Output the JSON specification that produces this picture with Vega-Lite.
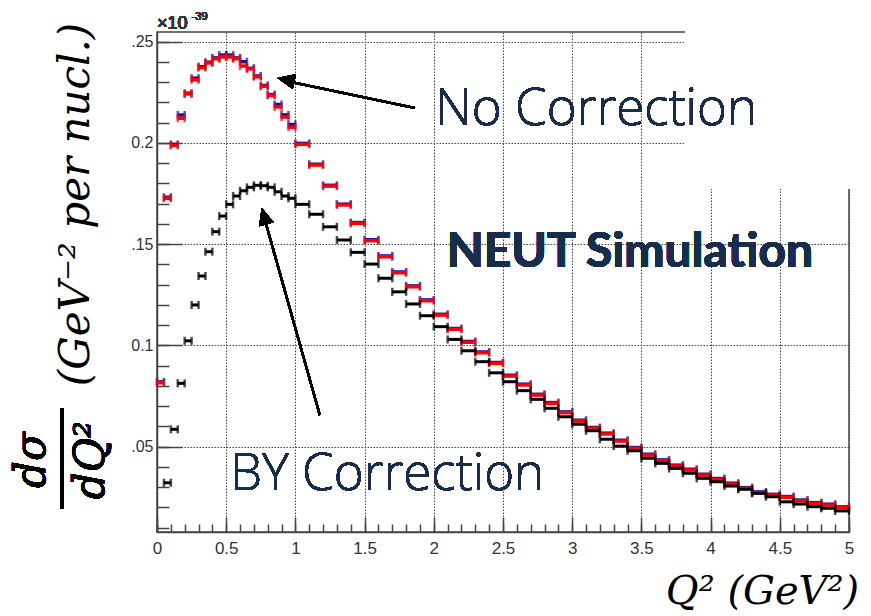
{
  "$schema": "https://vega.github.io/schema/vega-lite/v6.json",
  "width": 692,
  "height": 500,
  "autosize": {"type": "none"},
  "padding": {"left": 157, "top": 32, "right": 22, "bottom": 84},
  "background": "white",
  "config": {"view": {"stroke": "#444", "strokeWidth": 1.5}},
  "data": {"values": [
    {"lo":0,"hi":0.05,"blue":0.082,"red":0.0816},
    {"lo":0.05,"hi":0.1,"blue":0.1732,"red":0.1727,"black":0.0322},
    {"lo":0.1,"hi":0.15,"blue":0.1993,"red":0.1988,"black":0.0586},
    {"lo":0.15,"hi":0.2,"blue":0.2138,"red":0.2122,"black":0.0813},
    {"lo":0.2,"hi":0.25,"blue":0.2246,"red":0.2242,"black":0.1023},
    {"lo":0.25,"hi":0.3,"blue":0.232,"red":0.2312,"black":0.12},
    {"lo":0.3,"hi":0.35,"blue":0.2377,"red":0.2372,"black":0.1343},
    {"lo":0.35,"hi":0.4,"blue":0.2399,"red":0.2395,"black":0.1463},
    {"lo":0.4,"hi":0.45,"blue":0.242,"red":0.2416,"black":0.1562},
    {"lo":0.45,"hi":0.5,"blue":0.2434,"red":0.2425,"black":0.1639},
    {"lo":0.5,"hi":0.55,"blue":0.2434,"red":0.2425,"black":0.1697},
    {"lo":0.55,"hi":0.6,"blue":0.242,"red":0.2416,"black":0.1738},
    {"lo":0.6,"hi":0.65,"blue":0.2401,"red":0.238,"black":0.1764},
    {"lo":0.65,"hi":0.7,"blue":0.2369,"red":0.2366,"black":0.1781},
    {"lo":0.7,"hi":0.75,"blue":0.2331,"red":0.2327,"black":0.1791},
    {"lo":0.75,"hi":0.8,"blue":0.2284,"red":0.228,"black":0.1789},
    {"lo":0.8,"hi":0.85,"blue":0.2239,"red":0.2235,"black":0.1781},
    {"lo":0.85,"hi":0.9,"blue":0.219,"red":0.2178,"black":0.1759},
    {"lo":0.9,"hi":0.95,"blue":0.2139,"red":0.2128,"black":0.1738},
    {"lo":0.95,"hi":1.0,"blue":0.2091,"red":0.2078,"black":0.1727},
    {"lo":1.0,"hi":1.1,"blue":0.1998,"red":0.1993,"black":0.1697},
    {"lo":1.1,"hi":1.2,"blue":0.1895,"red":0.1891,"black":0.1648},
    {"lo":1.2,"hi":1.3,"blue":0.1791,"red":0.1787,"black":0.1586},
    {"lo":1.3,"hi":1.4,"blue":0.1698,"red":0.1694,"black":0.1521},
    {"lo":1.4,"hi":1.5,"blue":0.1607,"red":0.1603,"black":0.146},
    {"lo":1.5,"hi":1.6,"blue":0.1522,"red":0.1517,"black":0.1402},
    {"lo":1.6,"hi":1.7,"blue":0.1442,"red":0.1438,"black":0.1332},
    {"lo":1.7,"hi":1.8,"blue":0.1363,"red":0.1359,"black":0.1265},
    {"lo":1.8,"hi":1.9,"blue":0.1294,"red":0.129,"black":0.1205},
    {"lo":1.9,"hi":2.0,"blue":0.1225,"red":0.1221,"black":0.1147},
    {"lo":2.0,"hi":2.1,"blue":0.1154,"red":0.115,"black":0.1093},
    {"lo":2.1,"hi":2.2,"blue":0.1084,"red":0.108,"black":0.103},
    {"lo":2.2,"hi":2.3,"blue":0.102,"red":0.1016,"black":0.0974},
    {"lo":2.3,"hi":2.4,"blue":0.0968,"red":0.0964,"black":0.092},
    {"lo":2.4,"hi":2.5,"blue":0.0916,"red":0.0912,"black":0.0865},
    {"lo":2.5,"hi":2.6,"blue":0.0853,"red":0.0849,"black":0.0821},
    {"lo":2.6,"hi":2.7,"blue":0.0809,"red":0.0805,"black":0.0777},
    {"lo":2.7,"hi":2.8,"blue":0.0759,"red":0.0755,"black":0.0734},
    {"lo":2.8,"hi":2.9,"blue":0.0718,"red":0.0714,"black":0.069},
    {"lo":2.9,"hi":3.0,"blue":0.0672,"red":0.0668,"black":0.0648},
    {"lo":3.0,"hi":3.1,"blue":0.0631,"red":0.0627,"black":0.0611},
    {"lo":3.1,"hi":3.2,"blue":0.0595,"red":0.0591,"black":0.0579},
    {"lo":3.2,"hi":3.3,"blue":0.0567,"red":0.0563,"black":0.0537},
    {"lo":3.3,"hi":3.4,"blue":0.0532,"red":0.0528,"black":0.0503},
    {"lo":3.4,"hi":3.5,"blue":0.0496,"red":0.0492,"black":0.048},
    {"lo":3.5,"hi":3.6,"blue":0.0463,"red":0.0459,"black":0.0443},
    {"lo":3.6,"hi":3.7,"blue":0.0435,"red":0.0431,"black":0.0418},
    {"lo":3.7,"hi":3.8,"blue":0.0409,"red":0.0405,"black":0.0393},
    {"lo":3.8,"hi":3.9,"blue":0.0389,"red":0.0385,"black":0.0369},
    {"lo":3.9,"hi":4.0,"blue":0.0364,"red":0.036,"black":0.0344},
    {"lo":4.0,"hi":4.1,"blue":0.0343,"red":0.0339,"black":0.0327},
    {"lo":4.1,"hi":4.2,"blue":0.032,"red":0.0316,"black":0.0306},
    {"lo":4.2,"hi":4.3,"blue":0.0298,"red":0.0294,"black":0.029},
    {"lo":4.3,"hi":4.4,"blue":0.0277,"red":0.0273,"black":0.027},
    {"lo":4.4,"hi":4.5,"blue":0.0265,"red":0.0261,"black":0.0253},
    {"lo":4.5,"hi":4.6,"blue":0.0254,"red":0.025,"black":0.0228},
    {"lo":4.6,"hi":4.7,"blue":0.0237,"red":0.0233,"black":0.0217},
    {"lo":4.7,"hi":4.8,"blue":0.0224,"red":0.022,"black":0.0204},
    {"lo":4.8,"hi":4.9,"blue":0.0216,"red":0.0212,"black":0.0196},
    {"lo":4.9,"hi":5.0,"blue":0.0203,"red":0.0199,"black":0.0183}
  ]},
  "resolve": {"axis": {"x": "independent", "y": "independent"}},
  "layer": [
    {
      "mark": {"type": "rule", "strokeWidth": 3.5, "color": "#1212a0"},
      "encoding": {
        "x": {"field": "lo", "type": "quantitative",
          "scale": {"domain": [0, 5], "nice": false, "zero": false},
          "axis": {"orient": "bottom", "values": [0,0.5,1,1.5,2,2.5,3,3.5,4,4.5,5],
            "labelExpr": "'' + datum.value", "labelFlush": false,
            "labelFont": "Liberation Sans", "labelFontSize": 17, "labelColor": "#333", "labelPadding": 23,
            "tickSize": -15, "tickWidth": 1.5, "tickColor": "#444",
            "domainColor": "#444", "domainWidth": 1.5,
            "grid": true, "gridDash": [1.5, 1.5], "gridColor": "#444", "gridWidth": 1,
            "title": "Q² (GeV²)", "titleFont": "DejaVu Serif", "titleFontStyle": "italic", "titleFontWeight": "normal",
            "titleFontSize": 40, "titleColor": "#000", "titleX": 605, "titleY": 71,
            "titleAlign": "center", "titleBaseline": "alphabetic"}},
        "x2": {"field": "hi"},
        "y": {"field": "blue", "type": "quantitative",
          "scale": {"domain": [0.0079, 0.2548], "nice": false, "zero": false},
          "axis": {"orient": "left", "values": [0.05, 0.1, 0.15, 0.2, 0.25],
            "labelExpr": "datum.value == 0.25 ? '.25' : datum.value == 0.2 ? '0.2' : datum.value == 0.15 ? '.15' : datum.value == 0.1 ? '0.1' : '.05'",
            "labelFont": "Liberation Sans", "labelFontSize": 16, "labelColor": "#333", "labelPadding": 29,
            "tickSize": -25, "tickWidth": 1.5, "tickColor": "#444",
            "domainColor": "#444", "domainWidth": 1.5,
            "grid": true, "gridDash": [1.5, 1.5], "gridColor": "#444", "gridWidth": 1,
            "title": "(GeV⁻² per nucl.)", "titleFont": "DejaVu Serif", "titleFontStyle": "italic", "titleFontWeight": "normal",
            "titleFontSize": 42, "titleColor": "#000", "titleAngle": 270, "titleX": -82, "titleY": 172,
            "titleAlign": "center", "titleBaseline": "middle"}}
      }
    },
    {
      "mark": {"type": "tick", "orient": "vertical", "size": 8, "thickness": 2.5, "color": "#1212a0"},
      "encoding": {
        "x": {"field": "lo", "type": "quantitative",
          "axis": {"orient": "bottom", "values": [0,0.1,0.2,0.3,0.4,0.5,0.6,0.7,0.8,0.9,1,1.1,1.2,1.3,1.4,1.5,1.6,1.7,1.8,1.9,2,2.1,2.2,2.3,2.4,2.5,2.6,2.7,2.8,2.9,3,3.1,3.2,3.3,3.4,3.5,3.6,3.7,3.8,3.9,4,4.1,4.2,4.3,4.4,4.5,4.6,4.7,4.8,4.9,5],
            "labels": false, "grid": false, "domain": false, "tickSize": -8, "tickWidth": 1.5, "tickColor": "#444", "title": null}},
        "y": {"field": "blue", "type": "quantitative",
          "axis": {"orient": "left", "values": [0.01,0.02,0.03,0.04,0.05,0.06,0.07,0.08,0.09,0.1,0.11,0.12,0.13,0.14,0.15,0.16,0.17,0.18,0.19,0.2,0.21,0.22,0.23,0.24,0.25],
            "labels": false, "grid": false, "domain": false, "tickSize": -12, "tickWidth": 1.5, "tickColor": "#444", "title": null}}
      }
    },
    {
      "mark": {"type": "tick", "orient": "vertical", "size": 8, "thickness": 2.5, "color": "#1212a0"},
      "encoding": {
        "x": {"field": "hi", "type": "quantitative", "axis": null},
        "y": {"field": "blue", "type": "quantitative", "axis": null}
      }
    },
    {
      "mark": {"type": "rule", "strokeWidth": 3.5, "color": "#ff0000"},
      "encoding": {
        "x": {"field": "lo", "type": "quantitative", "axis": null},
        "x2": {"field": "hi"},
        "y": {"field": "red", "type": "quantitative", "axis": null}
      }
    },
    {
      "mark": {"type": "tick", "orient": "vertical", "size": 8, "thickness": 2.5, "color": "#ff0000"},
      "encoding": {
        "x": {"field": "lo", "type": "quantitative", "axis": null},
        "y": {"field": "red", "type": "quantitative", "axis": null}
      }
    },
    {
      "mark": {"type": "tick", "orient": "vertical", "size": 8, "thickness": 2.5, "color": "#ff0000"},
      "encoding": {
        "x": {"field": "hi", "type": "quantitative", "axis": null},
        "y": {"field": "red", "type": "quantitative", "axis": null}
      }
    },
    {
      "mark": {"type": "rule", "strokeWidth": 3, "color": "#000000"},
      "encoding": {
        "x": {"field": "lo", "type": "quantitative", "axis": null},
        "x2": {"field": "hi"},
        "y": {"field": "black", "type": "quantitative", "axis": null}
      }
    },
    {
      "mark": {"type": "tick", "orient": "vertical", "size": 8, "thickness": 2.5, "color": "#000000"},
      "encoding": {
        "x": {"field": "lo", "type": "quantitative", "axis": null},
        "y": {"field": "black", "type": "quantitative", "axis": null}
      }
    },
    {
      "mark": {"type": "tick", "orient": "vertical", "size": 8, "thickness": 2.5, "color": "#000000"},
      "encoding": {
        "x": {"field": "hi", "type": "quantitative", "axis": null},
        "y": {"field": "black", "type": "quantitative", "axis": null}
      }
    },
    {
      "mark": {"type": "rect", "fill": "white", "stroke": null},
      "encoding": {
        "x": {"datum": 3.815, "type": "quantitative", "axis": null},
        "x2": {"datum": 5.35},
        "y": {"datum": 0.1774, "type": "quantitative", "axis": null},
        "y2": {"datum": 0.275}
      }
    },
    {
      "mark": {"type": "text", "text": "No Correction", "font": "Open Sans", "fontWeight": 300, "fontSize": 51, "color": "#182c4c", "align": "left", "baseline": "alphabetic"},
      "encoding": {
        "x": {"datum": 2.009, "type": "quantitative", "axis": null},
        "y": {"datum": 0.2088, "type": "quantitative", "axis": null}
      }
    },
    {
      "mark": {"type": "text", "text": "BY Correction", "font": "Open Sans", "fontWeight": 300, "fontSize": 51, "color": "#182c4c", "align": "left", "baseline": "alphabetic"},
      "encoding": {
        "x": {"datum": 0.527, "type": "quantitative", "axis": null},
        "y": {"datum": 0.0286, "type": "quantitative", "axis": null}
      }
    },
    {
      "mark": {"type": "text", "text": "NEUT Simulation", "font": "Lato", "fontWeight": "bold", "fontSize": 48, "color": "#182c4c", "align": "left", "baseline": "alphabetic"},
      "encoding": {
        "x": {"datum": 2.093, "type": "quantitative", "axis": null},
        "y": {"datum": 0.1387, "type": "quantitative", "axis": null}
      }
    },
    {
      "mark": {"type": "rule", "strokeWidth": 2, "color": "#000"},
      "encoding": {
        "x": {"datum": 1.863, "type": "quantitative", "axis": null},
        "x2": {"datum": 0.95},
        "y": {"datum": 0.2173, "type": "quantitative", "axis": null},
        "y2": {"datum": 0.2304}
      }
    },
    {
      "mark": {"type": "point", "shape": "M0,0 L0.44,1 L-0.44,1 Z", "size": 1156, "filled": true, "color": "#000", "opacity": 1, "angle": 282.4},
      "encoding": {
        "x": {"datum": 0.872, "type": "quantitative", "axis": null},
        "y": {"datum": 0.2321, "type": "quantitative", "axis": null}
      }
    },
    {
      "mark": {"type": "rule", "strokeWidth": 2, "color": "#000"},
      "encoding": {
        "x": {"datum": 1.176, "type": "quantitative", "axis": null},
        "x2": {"datum": 0.786},
        "y": {"datum": 0.0657, "type": "quantitative", "axis": null},
        "y2": {"datum": 0.1605}
      }
    },
    {
      "mark": {"type": "point", "shape": "M0,0 L0.44,1 L-0.44,1 Z", "size": 1156, "filled": true, "color": "#000", "opacity": 1, "angle": 344.35},
      "encoding": {
        "x": {"datum": 0.7565, "type": "quantitative", "axis": null},
        "y": {"datum": 0.1679, "type": "quantitative", "axis": null}
      }
    },
    {
      "mark": {"type": "text", "text": "×10", "font": "Liberation Sans", "fontSize": 18, "color": "#333", "align": "left", "baseline": "alphabetic"},
      "encoding": {
        "x": {"datum": 0, "type": "quantitative", "axis": null},
        "y": {"datum": 0.2563, "type": "quantitative", "axis": null}
      }
    },
    {
      "mark": {"type": "text", "text": "-39", "font": "Liberation Sans", "fontSize": 11, "color": "#333", "align": "left", "baseline": "alphabetic"},
      "encoding": {
        "x": {"datum": 0.25, "type": "quantitative", "axis": null},
        "y": {"datum": 0.2607, "type": "quantitative", "axis": null}
      }
    },
    {
      "mark": {"type": "text", "text": "dσ", "font": "DejaVu Serif", "fontStyle": "italic", "fontSize": 42, "color": "#000", "align": "center", "baseline": "middle", "angle": 270},
      "encoding": {
        "x": {"datum": -0.9, "type": "quantitative", "axis": null},
        "y": {"datum": 0.0434, "type": "quantitative", "axis": null}
      }
    },
    {
      "mark": {"type": "text", "text": "dQ²", "font": "DejaVu Serif", "fontStyle": "italic", "fontSize": 42, "color": "#000", "align": "center", "baseline": "middle", "angle": 270},
      "encoding": {
        "x": {"datum": -0.48, "type": "quantitative", "axis": null},
        "y": {"datum": 0.0434, "type": "quantitative", "axis": null}
      }
    },
    {
      "mark": {"type": "rule", "strokeWidth": 3, "color": "#000"},
      "encoding": {
        "x": {"datum": -0.689, "type": "quantitative", "axis": null},
        "y": {"datum": 0.069, "type": "quantitative", "axis": null},
        "y2": {"datum": 0.0195}
      }
    }
  ]
}
